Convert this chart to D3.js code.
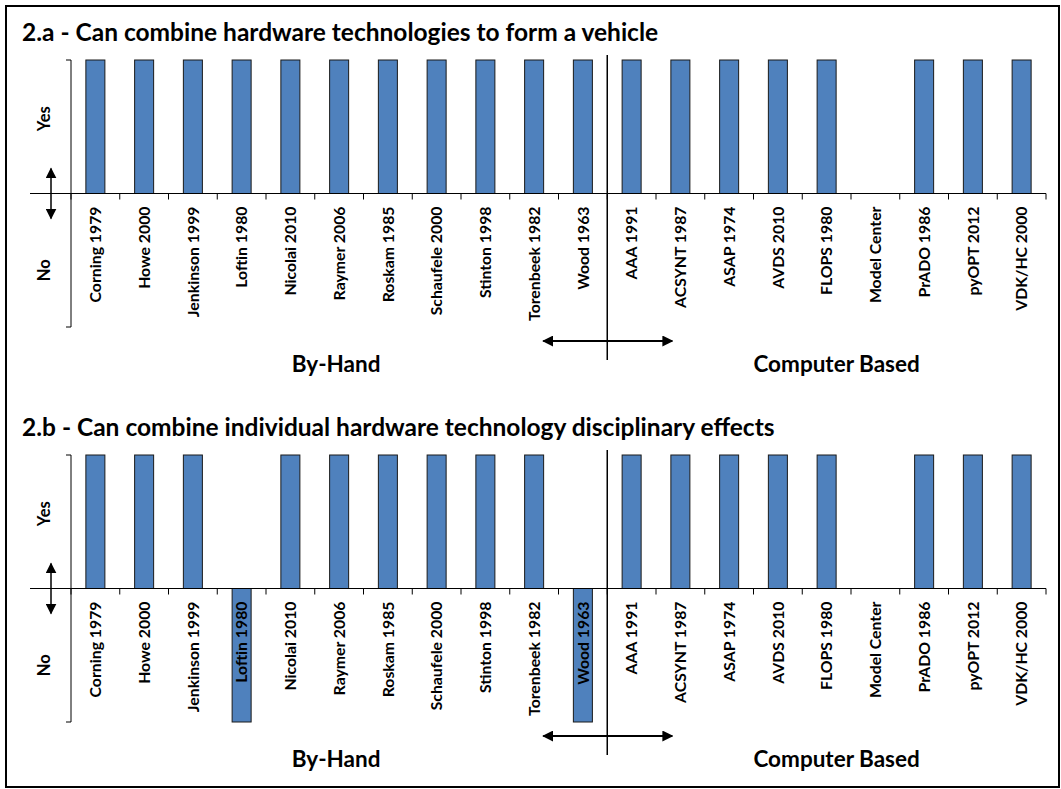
<!DOCTYPE html>
<meta charset="utf-8">
<style>
  body { margin: 0; background: #fff; }
  text { font-family: Lato, "Open Sans", sans-serif; font-weight: bold; fill: #000; }
</style>
<body>
<div id="chart"></div>
<script src="https://d3js.org/d3.v7.min.js"></script>
<script>
  // categories, in drawing order
  const categories = ["Corning 1979", "Howe 2000", "Jenkinson 1999", "Loftin 1980", "Nicolai 2010",
    "Raymer 2006", "Roskam 1985", "Schaufele 2000", "Stinton 1998", "Torenbeek 1982", "Wood 1963",
    "AAA 1991", "ACSYNT 1987", "ASAP 1974", "AVDS 2010", "FLOPS 1980", "Model Center",
    "PrADO 1986", "pyOPT 2012", "VDK/HC 2000"];
  // 1 = yes, -1 = no, 0 = not assessed
  const valuesA = [1, 1, 1, 1, 1, 1, 1, 1, 1, 1, 1, 1, 1, 1, 1, 1, 0, 1, 1, 1];
  const valuesB = [1, 1, 1, -1, 1, 1, 1, 1, 1, 1, -1, 1, 1, 1, 1, 1, 0, 1, 1, 1];
  const titles = ["2.a - Can combine hardware technologies to form a vehicle",
    "2.b - Can combine individual hardware technology disciplinary effects"];
  const groupNames = ["By-Hand", "Computer Based"];
  const groupSplit = "AAA 1991";   // first category of the second group
  const yTickLabels = ["Yes", "No"];

  const width = 1061, height = 789;
  const blue = "#4F81BD";

  const svg = d3.select("#chart").append("svg")
    .attr("width", width)
    .attr("height", height);

  const defs = svg.append("defs");
  defs.append("marker")
    .attr("id", "head")
    .attr("viewBox", "0 0 10 10")
    .attr("refX", 9).attr("refY", 5)
    .attr("markerWidth", 11).attr("markerHeight", 11)
    .attr("markerUnits", "userSpaceOnUse")
    .attr("orient", "auto-start-reverse")
    .append("path")
    .attr("d", "M0,0 L10,5 L0,10 Z")
    .attr("fill", "#000");

  // outer frame
  svg.append("rect")
    .attr("x", 6).attr("y", 6)
    .attr("width", 1053).attr("height", 781)
    .attr("fill", "none")
    .attr("stroke", "#000")
    .attr("stroke-width", 2);

  const x = d3.scaleBand()
    .domain(categories)
    .range([71, 1046])
    .paddingInner(0.61)
    .paddingOuter(0.305);
  const cell = d3.scaleBand()
    .domain(categories)
    .range([71, 1046]);
  const y = d3.scaleLinear()
    .domain([-1, 1])
    .range([327, 60]);

  function drawPanel(offset, title, values) {
    const g = svg.append("g").attr("transform", `translate(0, ${offset})`);
    const y0 = y(0);

    g.append("text")
      .attr("x", 22).attr("y", 41)
      .style("font-size", "24.5px")
      .text(title);

    const data = categories.map((c, i) => ({ cat: c, value: values[i] }));

    // bars
    g.selectAll("rect.bar")
      .data(data.filter(d => d.value !== 0))
      .join("rect")
      .attr("class", "bar")
      .attr("x", d => x(d.cat))
      .attr("width", x.bandwidth())
      .attr("y", d => Math.min(y(d.value), y0))
      .attr("height", d => Math.abs(y(d.value) - y0))
      .attr("fill", blue)
      .attr("stroke", "#1a1a1a")
      .attr("stroke-width", 1);

    // y axis line with end ticks
    g.append("path")
      .attr("d", `M66,${y(1)}H71V${y(-1)}H66`)
      .attr("fill", "none")
      .attr("stroke", "#000")
      .attr("stroke-width", 1);

    // baseline
    g.append("line")
      .attr("x1", 30).attr("x2", cell.range()[1])
      .attr("y1", y0).attr("y2", y0)
      .attr("stroke", "#000");

    // category boundary ticks
    const bounds = categories.map(c => cell(c)).concat([cell.range()[1]]);
    g.selectAll("line.tick")
      .data(bounds)
      .join("line")
      .attr("class", "tick")
      .attr("x1", d => d).attr("x2", d => d)
      .attr("y1", y0).attr("y2", y0 + 6)
      .attr("stroke", "#000");

    // category labels
    g.selectAll("text.cat")
      .data(categories)
      .join("text")
      .attr("class", "cat")
      .attr("transform", d => `translate(${x(d) + x.bandwidth() / 2}, ${y0 + 13}) rotate(-90)`)
      .attr("text-anchor", "end")
      .attr("dy", "0.36em")
      .style("font-size", "15.8px")
      .text(d => d);

    // yes / no labels
    g.selectAll("text.yn")
      .data(yTickLabels)
      .join("text")
      .attr("class", "yn")
      .attr("transform", (d, i) => `translate(44, ${i === 0 ? (y(1) + y0) / 2 - 8 : (y(-1) + y0) / 2 + 10}) rotate(-90)`)
      .attr("text-anchor", "middle")
      .attr("dy", "0.36em")
      .style("font-size", "16.5px")
      .text(d => d);

    // vertical yes/no arrow
    g.append("line")
      .attr("x1", 51).attr("x2", 51)
      .attr("y1", y0 - 25).attr("y2", y0 + 25)
      .attr("stroke", "#000")
      .attr("stroke-width", 1.5)
      .attr("marker-start", "url(#head)")
      .attr("marker-end", "url(#head)");

    // divider between groups
    const splitX = cell(groupSplit);
    g.append("line")
      .attr("x1", splitX).attr("x2", splitX)
      .attr("y1", y(1) - 5).attr("y2", 360)
      .attr("stroke", "#000")
      .attr("stroke-width", 1.5);

    g.append("line")
      .attr("x1", splitX - 64).attr("x2", splitX + 65)
      .attr("y1", 341).attr("y2", 341)
      .attr("stroke", "#000")
      .attr("stroke-width", 2)
      .attr("marker-start", "url(#head)")
      .attr("marker-end", "url(#head)");

    // group labels
    const groupCenters = [(cell.range()[0] + splitX) / 2 - 3, (splitX + cell.range()[1]) / 2 + 10];
    g.selectAll("text.grp")
      .data(groupNames)
      .join("text")
      .attr("class", "grp")
      .attr("x", (d, i) => groupCenters[i])
      .attr("y", 372)
      .attr("text-anchor", "middle")
      .style("font-size", "22.5px")
      .text(d => d);
  }

  drawPanel(0, titles[0], valuesA);
  drawPanel(395, titles[1], valuesB);
</script>
</body>
